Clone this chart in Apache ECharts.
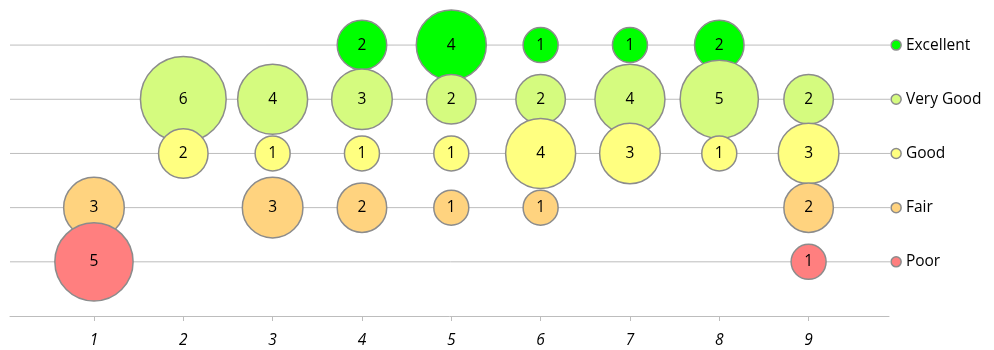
<!DOCTYPE html>
<html>
<head>
<meta charset="utf-8">
<script src="https://cdn.jsdelivr.net/npm/echarts@6/dist/echarts.min.js"></script>
<style>
html,body{margin:0;padding:0;background:#fff;}
#chart{width:994px;height:350px;}
</style>
</head>
<body>
<div id="chart"></div>
<script>
// x categories 1..9, rating rows 1..5
var xTicks = [1, 2, 3, 4, 5, 6, 7, 8, 9];
var ratings = ['Poor', 'Fair', 'Good', 'Very Good', 'Excellent'];
var colors = ['#FF7F7F', '#FFD37F', '#FFFF80', '#D5FB7F', '#00FF00'];

// counts per category (null = no bubble)
var poor      = [5, null, null, null, null, null, null, null, 1];
var fair      = [3, null, 3, 2, 1, 1, null, null, 2];
var good      = [null, 2, 1, 1, 1, 4, 3, 1, 3];
var veryGood  = [null, 6, 4, 3, 2, 2, 4, 5, 2];
var excellent = [null, null, null, 2, 4, 1, 1, 2, null];

var rows = [poor, fair, good, veryGood, excellent];

init();
function init(){
	var series = [];
	var font = '"Open Sans", sans-serif';

	// row lines ending in a small marker + name (acts as the legend)
	for (var r = 0; r < ratings.length; r++) {
		series.push({
			name: ratings[r] + ' line',
			type: 'line',
			clip: false,
			z: 1,
			silent: true,
			lineStyle: { color: '#BDBDBD', width: 1 },
			data: [
				{ value: [0.06, r + 1], symbol: 'none' },
				{
					value: [9.98, r + 1],
					symbol: 'circle',
					symbolSize: 10,
					itemStyle: { color: colors[r], borderColor: '#8C8C8C', borderWidth: 1.5 },
					label: {
						show: true,
						position: 'right',
						distance: 4,
						formatter: ratings[r],
						color: '#000',
						fontFamily: font,
						fontSize: 15.5,
						padding: [3, 0, 0, 0]
					}
				}
			]
		});
	}

	// bubbles: Excellent drawn first, Poor last (on top)
	for (var r = ratings.length - 1; r >= 0; r--) {
		var pts = [];
		for (var i = 0; i < xTicks.length; i++) {
			if (rows[r][i] != null) pts.push([xTicks[i], r + 1, rows[r][i]]);
		}
		series.push({
			name: ratings[r],
			type: 'scatter',
			z: 2,
			data: pts,
			symbolSize: function (v) { return 35 * Math.sqrt(v[2]); },
			itemStyle: { color: colors[r], borderColor: '#8C8C8C', borderWidth: 1.5, opacity: 1 },
			label: {
				show: true,
				position: 'inside',
				formatter: function (p) { return p.value[2]; },
				color: '#000',
				fontFamily: font,
				fontSize: 15.5,
				padding: [3, 0, 0, 0]
			}
		});
	}

	var option = {
		animation: false,
		grid: { left: 10, right: 105, top: 18, bottom: 34 },
		xAxis: {
			type: 'value',
			min: 0.06,
			max: 9.9,
			splitLine: { show: false },
			axisLine: { show: true, lineStyle: { color: '#BDBDBD', width: 1 } },
			axisTick: { show: true, customValues: xTicks, length: 5, lineStyle: { color: '#BDBDBD' } },
			axisLabel: {
				customValues: xTicks,
				color: '#000',
				fontStyle: 'italic',
				fontFamily: font,
				fontSize: 15.5,
				margin: 17
			}
		},
		yAxis: {
			type: 'value',
			min: 0,
			max: 5.5,
			show: false,
			splitLine: { show: false }
		},
		series: series
	};
	var myChart = echarts.init(document.getElementById('chart'));
	myChart.setOption(option);
}
</script>
</body>
</html>
